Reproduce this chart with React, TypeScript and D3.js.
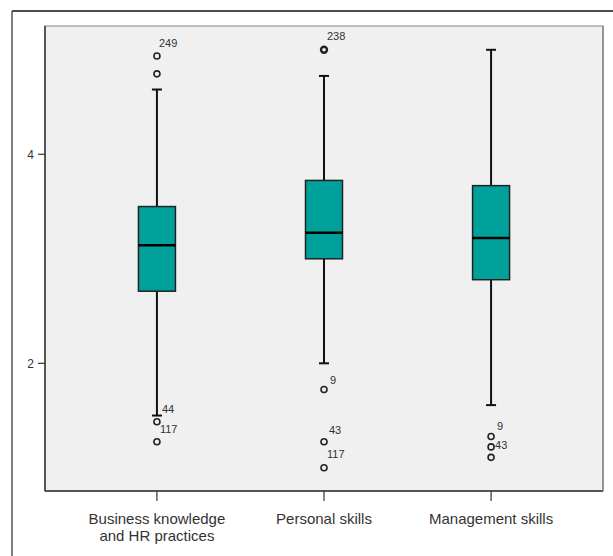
import React from "react";
import * as d3 from "d3";

const categories = ["Business knowledge\nand HR practices", "Personal skills", "Management skills"];
const q1 = [2.69, 3.0, 2.8];
const medians = [3.13, 3.25, 3.2];
const q3 = [3.5, 3.75, 3.7];
const whiskerLow = [1.5, 2.0, 1.6];
const whiskerHigh = [4.62, 4.75, 5.0];

// outliers: category index, value, case label ("" = none), bold = several cases
const outlierCat = [0, 0, 0, 0, 1, 1, 1, 1, 2, 2, 2];
const outlierVal = [4.94, 4.77, 1.44, 1.25, 5.0, 1.75, 1.25, 1.0, 1.3, 1.2, 1.1];
const outlierLabel = ["249", "", "44", "117", "238", "9", "43", "117", "9", "43", ""];
const outlierBold = [false, false, false, false, true, false, false, false, false, false, false];
// label nudges (dx, dy) relative to the point
const labelDx = [2, 0, 5, 3, 3, 6, 5, 3, 6, 4, 0];
const labelDy = [-13, 0, -13, -13, -14, -9, -12, -14, -10, -2, 0];

const yTicks = [2, 4];

const W = 613;
const H = 556;
const plot = { left: 45, top: 26, right: 603, bottom: 491 };

export default function App() {
  const y = d3.scaleLinear().domain([2, 4]).range([363.3, 154.3]);
  const x = d3
    .scalePoint<string>()
    .domain(categories)
    .range([plot.left, plot.right])
    .padding(0.67);

  const boxW = 37;
  const capW = 10;
  const teal = "#00a19b";
  const font = "'Liberation Sans', Arial, sans-serif";

  return (
    <svg
      width={W}
      height={H}
      style={{ position: "absolute", left: 0, top: 0, background: "#fff" }}
    >
      {/* outer frame */}
      <line x1={12} y1={11} x2={W} y2={11} stroke="#111" strokeWidth={1.5} />
      <line x1={12} y1={11} x2={12} y2={H} stroke="#555" strokeWidth={1.5} />

      {/* plot area */}
      <rect
        x={plot.left}
        y={plot.top}
        width={plot.right - plot.left}
        height={plot.bottom - plot.top}
        fill="#f0f0f0"
        stroke="#999"
        strokeWidth={1.2}
      />
      <line x1={plot.left} y1={plot.top} x2={plot.left} y2={plot.bottom} stroke="#333" strokeWidth={1.5} />
      <line x1={plot.left} y1={plot.bottom} x2={plot.right} y2={plot.bottom} stroke="#333" strokeWidth={1.5} />
      <line x1={plot.right} y1={plot.top} x2={plot.right} y2={plot.bottom} stroke="#777" strokeWidth={1.2} />

      {/* y axis ticks */}
      {yTicks.map((t) => (
        <g key={t}>
          <line x1={plot.left - 7} x2={plot.left} y1={y(t)} y2={y(t)} stroke="#333" strokeWidth={1.2} />
          <text
            x={plot.left - 11}
            y={y(t)}
            dy="0.35em"
            textAnchor="end"
            fontFamily={font}
            fontSize={12}
            fill="#333"
          >
            {t}
          </text>
        </g>
      ))}

      {/* x axis ticks and labels */}
      {categories.map((c) => {
        const cx = x(c)!;
        const lines = c.split("\n");
        return (
          <g key={c}>
            <line x1={cx} x2={cx} y1={plot.bottom} y2={plot.bottom + 10} stroke="#333" strokeWidth={1.2} />
            <text textAnchor="middle" fontFamily={font} fontSize={15} fill="#333">
              {lines.map((l, i) => (
                <tspan key={i} x={cx} y={524 + i * 17}>
                  {l}
                </tspan>
              ))}
            </text>
          </g>
        );
      })}

      {/* boxes */}
      {categories.map((c, i) => {
        const cx = x(c)!;
        return (
          <g key={c}>
            <line x1={cx} x2={cx} y1={y(whiskerHigh[i])} y2={y(q3[i])} stroke="#111" strokeWidth={2} />
            <line x1={cx} x2={cx} y1={y(q1[i])} y2={y(whiskerLow[i])} stroke="#111" strokeWidth={2} />
            <line x1={cx - capW / 2} x2={cx + capW / 2} y1={y(whiskerHigh[i])} y2={y(whiskerHigh[i])} stroke="#111" strokeWidth={2} />
            <line x1={cx - capW / 2} x2={cx + capW / 2} y1={y(whiskerLow[i])} y2={y(whiskerLow[i])} stroke="#111" strokeWidth={2} />
            <rect
              x={cx - boxW / 2}
              y={y(q3[i])}
              width={boxW}
              height={y(q1[i]) - y(q3[i])}
              fill={teal}
              stroke="#222"
              strokeWidth={1.5}
            />
            <line x1={cx - boxW / 2} x2={cx + boxW / 2} y1={y(medians[i])} y2={y(medians[i])} stroke="#000" strokeWidth={2.5} />
          </g>
        );
      })}

      {/* outliers */}
      {outlierVal.map((v, k) => {
        const cx = x(categories[outlierCat[k]])!;
        const cy = y(v);
        return (
          <g key={k}>
            <circle
              cx={cx}
              cy={cy}
              r={3}
              fill="none"
              stroke="#222"
              strokeWidth={outlierBold[k] ? 2.4 : 1.6}
            />
            {outlierLabel[k] && (
              <text
                x={cx + labelDx[k]}
                y={cy + labelDy[k]}
                dy="0.35em"
                fontFamily={font}
                fontSize={11}
                fill="#333"
              >
                {outlierLabel[k]}
              </text>
            )}
          </g>
        );
      })}
    </svg>
  );
}
